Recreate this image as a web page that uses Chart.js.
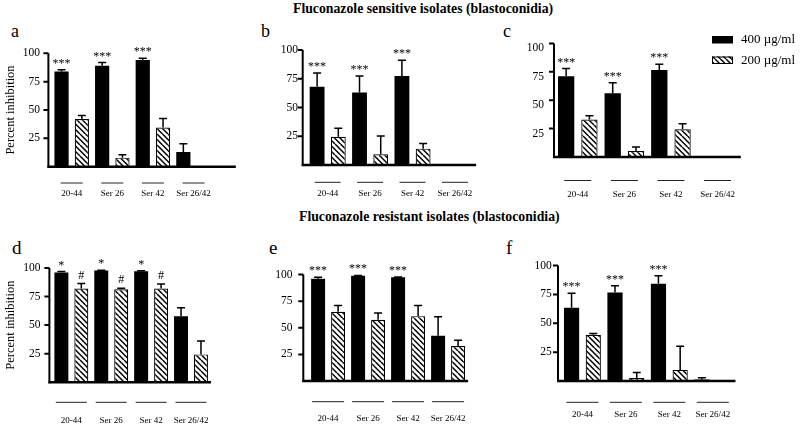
<!DOCTYPE html>
<html>
<head>
<meta charset="utf-8">
<script src="https://cdn.jsdelivr.net/npm/chart.js@4.4.0/dist/chart.umd.min.js"></script>
<style>
  body { margin: 0; background: #fff; }
  #wrap { position: relative; width: 800px; height: 425px; overflow: hidden; font-family: 'Liberation Serif', serif; color: #000; }
  canvas { position: absolute; }
  .title { position: absolute; font-family: 'Liberation Serif', serif; font-weight: bold; font-size: 13.75px; line-height: 14px; white-space: nowrap; }
  .letter { position: absolute; font-size: 18px; line-height: 18px; }
  .big { font-size: 19px; }
</style>
</head>
<body>
<div id="wrap">
  <div class="title" style="left:293px;top:2px">Fluconazole sensitive isolates (blastoconidia)</div>
  <div class="title" style="left:299px;top:210px">Fluconazole resistant isolates (blastoconidia)</div>
  <div class="letter" style="left:11px;top:22px">a</div>
  <div class="letter" style="left:261px;top:22px">b</div>
  <div class="letter" style="left:503px;top:22px">c</div>
  <div class="letter big" style="left:12px;top:239px">d</div>
  <div class="letter big" style="left:269px;top:239px">e</div>
  <div class="letter big" style="left:506px;top:239px">f</div>
</div>
<script>
const categories = ['20-44', 'Ser 26', 'Ser 42', 'Ser 26/42'];
const yTicks = [25, 50, 75, 100];
const doseLabels = ['400 µg/ml', '200 µg/ml'];
const noSig = ['', '', '', ''];

// sensitive isolates
const a400 = [84, 89, 94, 13];
const a400Err = [1.5, 2.8, 1.7, 7.2];
const a200 = [42, 8, 34.6, 0];
const a200Err = [3.2, 2.6, 7.8, 0];
const aSig400 = ['***', '***', '***', ''];

const b400 = [68, 63, 77.4, 0];
const b400Err = [12, 14.5, 13.6, 0];
const b200 = [24.6, 9.3, 14.2, 0];
const b200Err = [7.3, 15.9, 4.4, 0];
const bSig400 = ['***', '***', '***', ''];

const c400 = [71, 56.2, 76.5, 0];
const c400Err = [6.9, 9.1, 5.2, 0];
const c200 = [33, 5.2, 24.4, 0];
const c200Err = [3.4, 3.7, 4.8, 0];
const cSig400 = ['***', '***', '***', ''];

// resistant isolates
const d400 = [95.9, 97.7, 97.1, 57.8];
const d400Err = [0.9, 0.3, 0.3, 7.3];
const d200 = [82, 81.4, 82, 24.4];
const d200Err = [4.3, 0.9, 4, 11.6];
const dSig400 = ['*', '*', '*', ''];
const dSig200 = ['#', '#', '#', ''];

const e400 = [95.9, 98.8, 97.4, 42.6];
const e400Err = [1.5, 0.3, 0.2, 17.7];
const e200 = [65, 57.4, 60.9, 32.9];
const e200Err = [5.9, 6.4, 10, 5.3];
const eSig400 = ['***', '***', '***', ''];

const f400 = [63.5, 76.6, 84.2, 1.2];
const f400Err = [12.5, 5.9, 7, 1.7];
const f200 = [40.1, 2.6, 9.6, 0];
const f200Err = [1.1, 4.7, 20.5, 0];
const fSig400 = ['***', '***', '***', ''];

Chart.defaults.font.family = "'Liberation Serif', serif";
Chart.defaults.color = '#000';

// hatch fill "\\\"
const tile = document.createElement('canvas');
tile.width = 11; tile.height = 11;
const tc = tile.getContext('2d');
tc.fillStyle = '#fff';
tc.fillRect(0, 0, 11, 11);
tc.strokeStyle = '#000';
tc.lineWidth = 1.5;
tc.beginPath();
[-11, -5.5, 0, 5.5, 11].forEach(k => { tc.moveTo(k, 0); tc.lineTo(k + 11, 11); });
tc.stroke();
const hatch = tc.createPattern(tile, 'repeat');

const deco = {
  id: 'deco',
  afterDatasetsDraw(chart, args, o) {
    const ctx = chart.ctx, area = chart.chartArea;
    const x = chart.scales.x, y = chart.scales.y;
    const y0 = y.getPixelForValue(0);
    ctx.save();
    ctx.strokeStyle = '#000';
    ctx.fillStyle = '#000';

    // error bars and significance marks
    chart.data.datasets.forEach((ds, i) => {
      chart.getDatasetMeta(i).data.forEach((bar, j) => {
        const e = ds.errors[j];
        let top = bar.y;
        if (e > 0) {
          top = y.getPixelForValue(ds.data[j] + e);
          ctx.lineWidth = 1.5;
          ctx.beginPath();
          ctx.moveTo(bar.x, bar.y);
          ctx.lineTo(bar.x, top);
          ctx.moveTo(bar.x - 4, top);
          ctx.lineTo(bar.x + 4, top);
          ctx.stroke();
        }
        const m = ds.marks[j];
        if (m) {
          ctx.font = "12px 'Liberation Serif'";
          ctx.textAlign = 'center';
          ctx.textBaseline = 'alphabetic';
          const shift = m[0] === '#' ? 4 : 6;
          ctx.fillText(m, bar.x, top - 9 + shift);
        }
      });
    });

    // y axis with outside ticks
    const ax = area.left - o.axisGap;
    ctx.lineWidth = 2;
    ctx.beginPath();
    ctx.moveTo(ax, y.getPixelForValue(100));
    ctx.lineTo(ax, y0 + 1);
    yTicks.forEach(v => {
      const py = y.getPixelForValue(v);
      ctx.moveTo(ax - 5, py);
      ctx.lineTo(ax, py);
    });
    ctx.stroke();

    // baseline
    ctx.lineWidth = 2.5;
    ctx.beginPath();
    ctx.moveTo(ax - 1, y0);
    ctx.lineTo(area.right + o.baseExt, y0);
    ctx.stroke();

    // short rules above the group names
    ctx.lineWidth = 1;
    ctx.strokeStyle = '#222';
    ctx.beginPath();
    categories.forEach((c, i) => {
      const cx = x.getPixelForTick(i);
      ctx.moveTo(cx - o.lineW / 2, y0 + o.lineDy);
      ctx.lineTo(cx + o.lineW / 2, y0 + o.lineDy);
    });
    ctx.stroke();

    // legend (panel c only)
    if (o.legend) {
      const L = o.legend;
      ctx.font = "13px 'Liberation Serif'";
      ctx.textAlign = 'left';
      ctx.textBaseline = 'middle';
      chart.data.datasets.forEach((ds, i) => {
        const by = L.ys[i];
        ctx.fillStyle = ds.backgroundColor;
        ctx.fillRect(L.x, by, L.w, L.h);
        if (ds.borderWidth) {
          ctx.strokeStyle = '#000';
          ctx.lineWidth = 1;
          ctx.strokeRect(L.x + 0.5, by + 0.5, L.w - 1, L.h - 1);
        }
        ctx.fillStyle = '#000';
        ctx.fillText(ds.label, L.textX, by + L.h / 2);
      });
    }
    ctx.restore();
  }
};

const panels = [
  { d400: a400, e400: a400Err, d200: a200, e200: a200Err, s400: aSig400, s200: noSig,
    left: 51.4, right: 213.8, top: 51, bottom: 166.7, rowBottom: 205, canvasRight: 240,
    axisGap: 3, baseExt: 22, tickPad: 11.4, labelPad: 21.5, lineDy: 16.3, lineW: 22, yTitle: true },
  { d400: b400, e400: b400Err, d200: b200, e200: b200Err, s400: bSig400, s200: noSig,
    left: 306.5, right: 490.5, top: 50, bottom: 165, rowBottom: 205, canvasRight: 496,
    axisGap: 3.8, baseExt: 0, tickPad: 8.5, labelPad: 23, lineDy: 17.3, lineW: 26 },
  { d400: c400, e400: c400Err, d200: c200, e200: c200Err, s400: cSig400, s200: noSig,
    left: 554.5, right: 740.8, top: 42, bottom: 157, rowBottom: 205, canvasRight: 800,
    axisGap: 0.5, baseExt: 0, tickPad: 10.5, labelPad: 32, lineDy: 23.5, lineW: 27,
    yLabelOffset: 5, legend: { x: 712, ys: [36, 56.5], w: 21, h: 7.5, textX: 741 } },
  { d400: d400, e400: d400Err, d200: d200, e200: d200Err, s400: dSig400, s200: dSig200,
    left: 51.4, right: 237, top: 266.5, bottom: 382.3, rowBottom: 425, canvasRight: 242,
    axisGap: 2, baseExt: 0, tickPad: 11, labelPad: 33, lineDy: 20, lineW: 31, yTitle: true },
  { d400: e400, e400: e400Err, d200: e200, e200: e200Err, s400: eSig400, s200: noSig,
    left: 308.1, right: 493.7, top: 268, bottom: 381, rowBottom: 425, canvasRight: 498,
    axisGap: 4.8, baseExt: 0, tickPad: 15.6, labelPad: 32, lineDy: 20.7, lineW: 32 },
  { d400: f400, e400: f400Err, d200: f200, e200: f200Err, s400: fSig400, s200: noSig,
    left: 560.7, right: 745, top: 265.5, bottom: 381, rowBottom: 425, canvasRight: 760,
    axisGap: 2.7, baseExt: 1, tickPad: 9, labelPad: 28, lineDy: 21.3, lineW: 32 }
];

const wrap = document.getElementById('wrap');

panels.forEach(p => {
  const cl = Math.floor(p.left) - 48;
  const ct = Math.floor(p.top) - 16;
  const cw = p.canvasRight - cl;
  const ch = p.rowBottom - ct;
  const yw = p.left - cl;
  const padTop = p.top - ct;
  const xh = ch - padTop - (p.bottom - p.top);

  const canvas = document.createElement('canvas');
  canvas.width = cw;
  canvas.height = ch;
  canvas.style.left = cl + 'px';
  canvas.style.top = ct + 'px';
  wrap.appendChild(canvas);

  let legend = null;
  if (p.legend) {
    legend = { x: p.legend.x - cl, ys: p.legend.ys.map(v => v - ct), w: p.legend.w, h: p.legend.h, textX: p.legend.textX - cl };
  }

  new Chart(canvas, {
    type: 'bar',
    data: {
      labels: categories,
      datasets: [
        { label: doseLabels[0], data: p.d400, errors: p.e400, marks: p.s400,
          backgroundColor: '#000', borderWidth: 0, barPercentage: 0.7, categoryPercentage: 1 },
        { label: doseLabels[1], data: p.d200, errors: p.e200, marks: p.s200,
          backgroundColor: hatch, borderColor: '#000', borderWidth: 1.2, barPercentage: 0.7, categoryPercentage: 1 }
      ]
    },
    options: {
      responsive: false,
      animation: false,
      events: [],
      layout: { padding: { left: 0, top: padTop, right: cw - (p.right - cl), bottom: 0 } },
      plugins: {
        legend: { display: false },
        tooltip: { enabled: false },
        deco: { axisGap: p.axisGap, baseExt: p.baseExt, lineDy: p.lineDy, lineW: p.lineW, legend: legend }
      },
      scales: {
        x: {
          grid: { display: false, drawTicks: false },
          border: { display: false },
          ticks: { padding: p.labelPad, font: { size: 9 }, color: '#000', maxRotation: 0, autoSkip: false },
          afterFit: s => { s.height = xh; }
        },
        y: {
          min: 0,
          max: 100,
          grid: { display: false, drawTicks: false },
          border: { display: false },
          afterBuildTicks: s => { s.ticks = yTicks.map(v => ({ value: v })); },
          ticks: { padding: p.tickPad, font: { size: 11.5 }, color: '#000', labelOffset: p.yLabelOffset || 0 },
          title: { display: !!p.yTitle, text: 'Percent inhibition', font: { size: 12.5 }, color: '#000', padding: 0 },
          afterFit: s => { s.width = yw; }
        }
      }
    },
    plugins: [deco]
  });
});
</script>
</body>
</html>
